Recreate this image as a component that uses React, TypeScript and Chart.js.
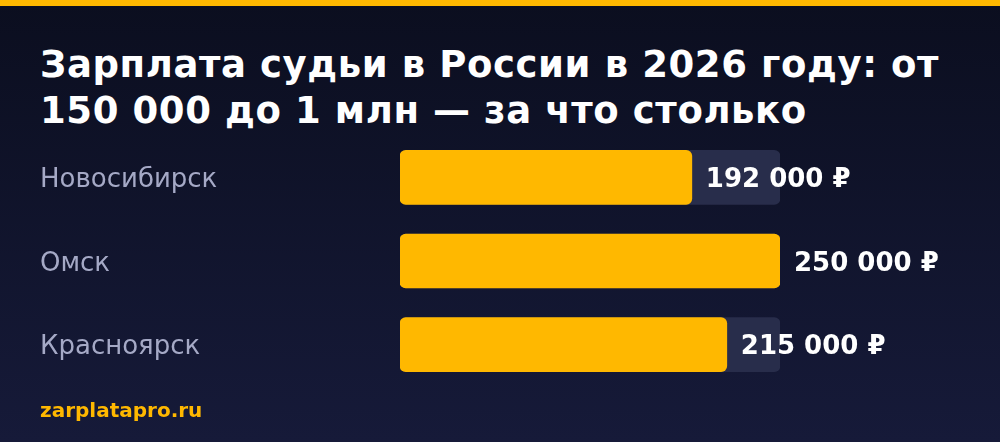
import React, { useEffect, useRef } from 'react';
import { Chart, registerables } from 'chart.js';

Chart.register(...registerables);

const cities = ['Новосибирск', 'Омск', 'Красноярск'];
const salaries = [192000, 250000, 215000];
const scaleMax = 250000;
const trackValues = cities.map(() => scaleMax);

const TITLE = 'Зарплата судьи в России в 2026 году: от 150 000 до 1 млн — за что столько';
const SOURCE = 'zarplatapro.ru';

const YELLOW = '#FFB800';
const FONT = '"DejaVu Sans", Verdana, sans-serif';

const formatRub = (v: number) =>
  v.toString().replace(/\B(?=(\d{3})+(?!\d))/g, ' ') + ' ₽';

const valueLabels = {
  id: 'valueLabels',
  afterDatasetsDraw(chart: Chart) {
    const ctx = chart.ctx;
    const meta = chart.getDatasetMeta(1);
    ctx.save();
    ctx.font = `bold 26px ${FONT}`;
    ctx.fillStyle = '#ffffff';
    ctx.textAlign = 'left';
    ctx.textBaseline = 'middle';
    meta.data.forEach((bar: any, i: number) => {
      ctx.fillText(formatRub(salaries[i]), bar.x + 14, bar.y + 3);
    });
    ctx.restore();
  },
};

const SalaryBars: React.FC = () => {
  const chartRef = useRef<HTMLCanvasElement>(null);
  const chartInstance = useRef<Chart | null>(null);

  useEffect(() => {
    if (!chartRef.current) return;
    const ctx = chartRef.current.getContext('2d');
    if (!ctx) return;
    if (chartInstance.current) chartInstance.current.destroy();

    chartInstance.current = new Chart(ctx, {
      type: 'bar',
      data: {
        labels: cities,
        datasets: [
          {
            label: 'track',
            data: trackValues,
            backgroundColor: '#282d4b',
            borderRadius: 6,
            borderSkipped: false,
            barThickness: 54,
            grouped: false,
            order: 2,
          },
          {
            label: 'Зарплата',
            data: salaries,
            backgroundColor: YELLOW,
            borderRadius: 6,
            borderSkipped: false,
            barThickness: 54,
            grouped: false,
            order: 1,
          },
        ],
      },
      options: {
        indexAxis: 'y',
        responsive: false,
        maintainAspectRatio: false,
        animation: false,
        layout: { padding: { left: 40, right: 220, top: 0, bottom: 0 } },
        scales: {
          x: { display: false, min: 0, max: scaleMax },
          y: {
            grid: { display: false, drawTicks: false },
            border: { display: false },
            afterFit: (scale: any) => {
              scale.width = 360;
            },
            ticks: {
              crossAlign: 'far',
              padding: 0,
              labelOffset: 3,
              color: '#a5a9c6',
              font: { family: FONT, size: 26 },
            },
          },
        },
        plugins: {
          legend: { display: false },
          tooltip: { enabled: false },
        },
      },
      plugins: [valueLabels],
    });

    return () => {
      if (chartInstance.current) {
        chartInstance.current.destroy();
        chartInstance.current = null;
      }
    };
  }, []);

  return (
    <canvas
      ref={chartRef}
      width={1000}
      height={282}
      style={{ position: 'absolute', left: 0, top: 120, width: 1000, height: 282 }}
    />
  );
};

const App: React.FC = () => {
  return (
    <div
      style={{
        position: 'fixed',
        left: 0,
        top: 0,
        width: 1000,
        height: 442,
        overflow: 'hidden',
        background: 'linear-gradient(180deg, #0b0e1f 0%, #161a39 100%)',
        fontFamily: FONT,
      }}
    >
      <div style={{ position: 'absolute', left: 0, top: 0, width: 1000, height: 6, background: YELLOW }} />
      <div
        style={{
          position: 'absolute',
          left: 40,
          top: 42,
          width: 940,
          color: '#ffffff',
          fontWeight: 'bold',
          fontSize: 37,
          lineHeight: '46px',
          letterSpacing: 0.6,
        }}
      >
        {TITLE}
      </div>
      <SalaryBars />
      <div
        style={{
          position: 'absolute',
          left: 40,
          top: 398,
          color: YELLOW,
          fontWeight: 'bold',
          fontSize: 20,
          lineHeight: '24px',
        }}
      >
        {SOURCE}
      </div>
    </div>
  );
};

export default App;
